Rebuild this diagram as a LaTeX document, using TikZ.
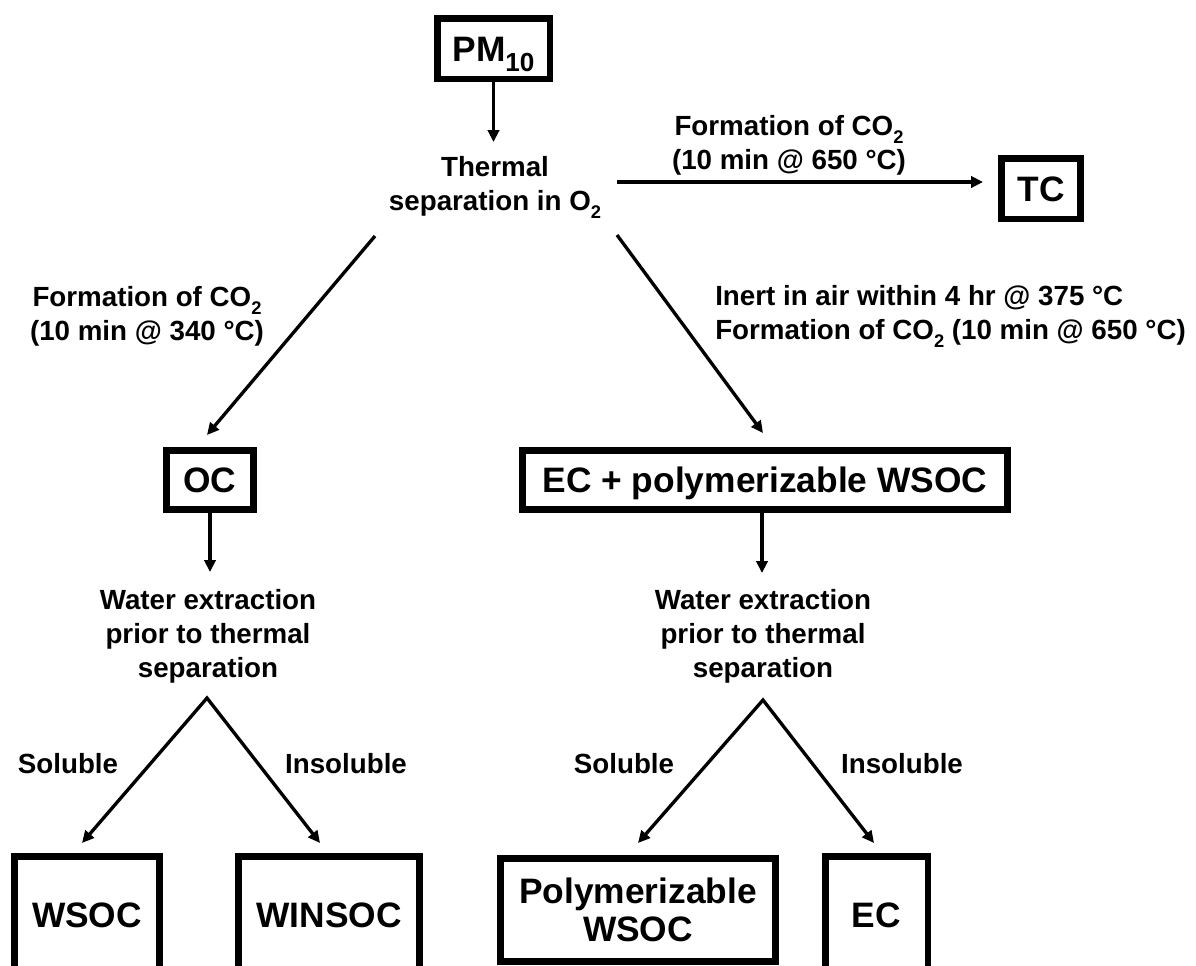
\documentclass[tikz,border=0pt]{standalone}
\usepackage{graphicx}
\usepackage{fontspec}
\setmainfont{Liberation Sans}
\usetikzlibrary{arrows.meta}
\newcommand{\lowsub}[1]{\raisebox{-0.28em}{\scalebox{0.66}{#1}}}
\newcommand{\pmsub}[1]{\raisebox{-0.3em}{\scalebox{0.74}{#1}}}
\begin{document}
\begin{tikzpicture}[x=0.75pt,y=-0.75pt,
  lbl/.style={font=\fontsize{20.8}{25.6}\selectfont\bfseries, inner sep=0pt, align=center},
  boxn/.style={draw, line width=4.9pt, inner sep=0pt, font=\fontsize{26.5}{28.5}\selectfont\bfseries, align=center},
  onel/.style={text height=19pt, text depth=0pt},
  arr/.style={line width=2.5pt, -{Triangle[length=9pt,width=8.5pt]}},
  twoarr/.style={line width=2.5pt, line join=miter, {Triangle[length=9pt,width=8.5pt]}-{Triangle[length=9pt,width=8.5pt]}},
  ]
\useasboundingbox (0,0) rectangle (1196,965);
\clip (0,0) rectangle (1196,965);
\fill[white] (0,0) rectangle (1196,965);

% boxes
\node[boxn,onel,minimum width=84.4pt,minimum height=45.4pt] (pm) at (493.5,48.5) {PM\pmsub{10}};
\node[boxn,onel,minimum width=59.6pt,minimum height=45.4pt] (tc) at (1041,188.5) {TC};
\node[boxn,onel,minimum width=64.9pt,minimum height=44.6pt] (oc) at (210,480) {OC};
\node[boxn,onel,minimum width=364.1pt,minimum height=44.6pt] (ecp) at (765,480) {EC + polymerizable WSOC};
\node[boxn,onel,minimum width=109.1pt,minimum height=88.1pt] (wsoc) at (87,915) {WSOC};
\node[boxn,onel,minimum width=136.1pt,minimum height=88.1pt] (winsoc) at (329,915) {WINSOC};
\node[boxn,minimum width=206.6pt,minimum height=77.6pt] (pwsoc) at (638,910) {Polymerizable\\WSOC};
\node[boxn,onel,minimum width=76.9pt,minimum height=88.1pt] (ec) at (876.5,915) {EC};

% text labels
\node[lbl] (thermal) at (495,187) {Thermal\\separation in O\lowsub{2}};
\node[lbl] (lbltc) at (789,145.4) {Formation of CO\lowsub{2}\\(10 min @ 650 °C)};
\node[lbl] (lbloc) at (147,316.4) {Formation of CO\lowsub{2}\\(10 min @ 340 °C)};
\node[lbl, align=left, anchor=west] (lblecp) at (715,316.4) {Inert in air within 4 hr @ 375 °C\\Formation of CO\lowsub{2} (10 min @ 650 °C)};
\node[lbl, font=\fontsize{20.8}{25.2}\selectfont\bfseries] (wl) at (208,636.4) {Water extraction\\prior to thermal\\separation};
\node[lbl, font=\fontsize{20.8}{25.2}\selectfont\bfseries] (wr) at (763,636.4) {Water extraction\\prior to thermal\\separation};
\node[lbl, anchor=base] (sl) at (68,773) {Soluble};
\node[lbl, anchor=base] (il) at (346,773) {Insoluble};
\node[lbl, anchor=base] (sr) at (624,773) {Soluble};
\node[lbl, anchor=base] (ir) at (902,773) {Insoluble};

% connector end points
\coordinate (thin) at (493.5,142);
\coordinate (hs) at (617,182);
\coordinate (he) at (983,182);
\coordinate (dl1) at (375,236);
\coordinate (dl2) at (207,435);
\coordinate (dr1) at (617,235);
\coordinate (dr2) at (763,433);
\coordinate (ocd) at (210,572);
\coordinate (ecpd) at (762,573);
\coordinate (al) at (207,698);
\coordinate (alt1) at (82,843);
\coordinate (alt2) at (320,843);
\coordinate (ar) at (763,700);
\coordinate (art1) at (638,843);
\coordinate (art2) at (874,843);

% connectors
\draw[arr] (pm.south) -- (thin);
\draw[arr] (hs) -- (he);
\draw[arr] (dl1) -- (dl2);
\draw[arr] (dr1) -- (dr2);
\draw[arr] (oc.south) -- (ocd);
\draw[arr] (ecp.south -| ecpd) -- (ecpd);
\draw[twoarr] (alt1) -- (al) -- (alt2);
\draw[twoarr] (art1) -- (ar) -- (art2);
\end{tikzpicture}
\end{document}
